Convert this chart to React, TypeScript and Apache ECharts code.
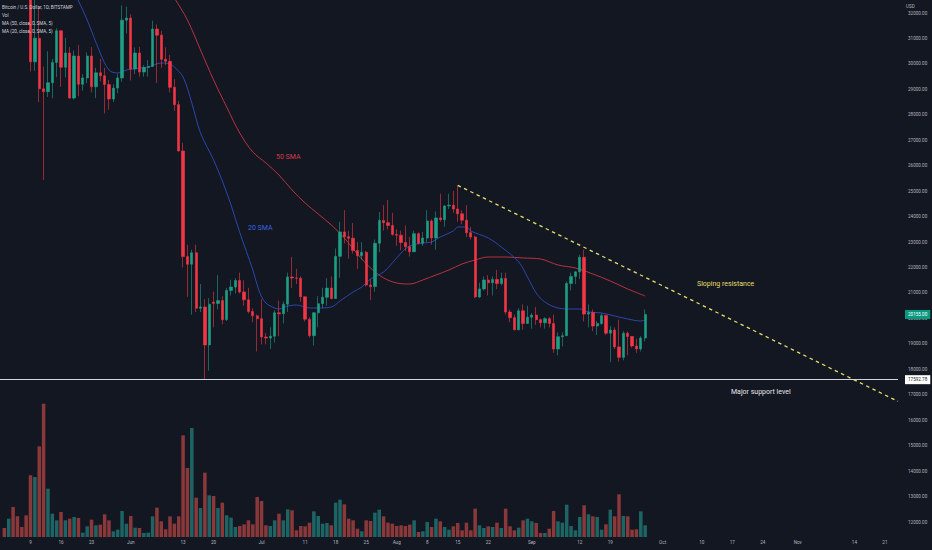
import React, { useEffect, useRef } from 'react';
import * as echarts from 'echarts';

// ---------- categories ----------
const firstDay = '2022-05-02';
const dayCount = 207;

const xTickLabels: [string, string][] = [
  ['2022-05-09', '9'], ['2022-05-16', '16'], ['2022-05-23', '23'], ['2022-06-01', 'Jun'],
  ['2022-06-13', '13'], ['2022-06-20', '20'], ['2022-07-01', 'Jul'], ['2022-07-11', '11'],
  ['2022-07-18', '18'], ['2022-07-25', '25'], ['2022-08-01', 'Aug'], ['2022-08-08', '8'],
  ['2022-08-15', '15'], ['2022-08-22', '22'], ['2022-09-01', 'Sep'], ['2022-09-12', '12'],
  ['2022-09-19', '19'], ['2022-10-01', 'Oct'], ['2022-10-10', '10'], ['2022-10-17', '17'],
  ['2022-10-24', '24'], ['2022-11-01', 'Nov'], ['2022-11-14', '14'], ['2022-11-21', '21'],
];

// ---------- price data (open, close, low, high), daily from 2022-05-03 ----------
const priceStart = '2022-05-03';
const ohlc: [number, number, number, number][] = [
  [38470, 37720, 37500, 38650], [37720, 39690, 37600, 40000], [39690, 36550, 35600, 39800],
  [36550, 36010, 35250, 36650], [36010, 35470, 34800, 36100], [35470, 34060, 33700, 35500],
  [34060, 30080, 29700, 34240], [30080, 31010, 29730, 32650], [31010, 29020, 28500, 32190],
  [29020, 28910, 25440, 29900], [28910, 29260, 28700, 30500], [29260, 30060, 28650, 30200],
  [30060, 31300, 29480, 31400], [31300, 29870, 29100, 31320], [29870, 30430, 29470, 31020],
  [30430, 28660, 28640, 30660], [28660, 30310, 28600, 30520], [30310, 29200, 28730, 30740],
  [29200, 29450, 28950, 29600], [29450, 30310, 29250, 30450], [30310, 29100, 28880, 30660],
  [29100, 29650, 28660, 29850], [29650, 29530, 29320, 30200], [29530, 29190, 28050, 29850],
  [29190, 28620, 28200, 29370], [28620, 29050, 28500, 29200], [29050, 29450, 28850, 29600],
  [29450, 31720, 29300, 32300], [31720, 31800, 31200, 32250], [31800, 29800, 29350, 31950],
  [29800, 30430, 29600, 30650], [30430, 29680, 29500, 30670], [29680, 29860, 29500, 29950],
  [29860, 29900, 29500, 30150], [29900, 31370, 29880, 31700], [31370, 31130, 29250, 31550],
  [31130, 30180, 29850, 31300], [30180, 30100, 29950, 30650], [30100, 29080, 28880, 30350],
  [29080, 28400, 28150, 29400], [28400, 26580, 26560, 28550], [26580, 22430, 22000, 26900],
  [22430, 22130, 20850, 22900], [22130, 22580, 20150, 22700], [22580, 20400, 20250, 22900],
  [20400, 20450, 20250, 21350], [20450, 18960, 17593, 20750], [18960, 20560, 17950, 20800],
  [20640, 20590, 19650, 21050], [20590, 20700, 20350, 21700], [20700, 19950, 19770, 20870],
  [19950, 21100, 19900, 21200], [21100, 21230, 20900, 21520], [21230, 21490, 20980, 21580],
  [21490, 21040, 20980, 21800], [21040, 20730, 20500, 21500], [20730, 20270, 20200, 21200],
  [20270, 20100, 19850, 20400], [20100, 19990, 18700, 20150], [19990, 19270, 18980, 20750],
  [19270, 19230, 18980, 19430], [19230, 19300, 18800, 19650], [19300, 20220, 19050, 20320],
  [20220, 20180, 19300, 20700], [20180, 20560, 19800, 20670], [20560, 21630, 20250, 21800],
  [21630, 21590, 21200, 22420], [21590, 21580, 21350, 21950], [21580, 20850, 20650, 21650],
  [20850, 19970, 19880, 20860], [19970, 19320, 19250, 20050], [19320, 20220, 18930, 20250],
  [20220, 20580, 19650, 20870], [20580, 20830, 20400, 21200], [20830, 21190, 20500, 21580],
  [21190, 20780, 20750, 21650], [20780, 22440, 20770, 22750], [22440, 23400, 21600, 23800],
  [23400, 23210, 22950, 24250], [23210, 23150, 22350, 23430], [23150, 22670, 22550, 23750],
  [22670, 22460, 21950, 23000], [22460, 22600, 22300, 23000], [22600, 21310, 21250, 22650],
  [21310, 21250, 20720, 21550], [21250, 22950, 21050, 23100], [22950, 23850, 22600, 24180],
  [23850, 23760, 23450, 24450], [23760, 23650, 23500, 24650], [23650, 23300, 23250, 24150],
  [23300, 23270, 22850, 23500], [23270, 22980, 22680, 23450], [22980, 22820, 22650, 23650],
  [22820, 22620, 22430, 23200], [22620, 23330, 22600, 23450], [23330, 22950, 22900, 23380],
  [22950, 23160, 22850, 23400], [23160, 23830, 23000, 24250], [23830, 23160, 22900, 23900],
  [23160, 23950, 22700, 24200], [23950, 23880, 23800, 24900], [23880, 24420, 23600, 24450],
  [24420, 24450, 24300, 24900], [24450, 24300, 24150, 25000], [24300, 24110, 23800, 25220],
  [24110, 23860, 23700, 24250], [23860, 23370, 23200, 24450], [23370, 23200, 23100, 23600],
  [23200, 20840, 20800, 23250], [20840, 21160, 20800, 21400], [21160, 21510, 21100, 21650],
  [21510, 21400, 20900, 21700], [21400, 21530, 20900, 21650], [21530, 21370, 21150, 21900],
  [21370, 21570, 21300, 21800], [21570, 20250, 20150, 21800], [20250, 20030, 19850, 20350],
  [20030, 19550, 19530, 20150], [19550, 20300, 19540, 20400], [20300, 19800, 19550, 20550],
  [19800, 20050, 19790, 20500], [20050, 20130, 19600, 20200], [20130, 19950, 19750, 20450],
  [19950, 19830, 19650, 20000], [19830, 19990, 19600, 20050], [19990, 19800, 19650, 20050],
  [19800, 18800, 18650, 20150], [18800, 19280, 18550, 19450], [19280, 19320, 18900, 19450],
  [19320, 21370, 19300, 21450], [21370, 21650, 21100, 21800], [21650, 21830, 21350, 21850],
  [21830, 22400, 21550, 22500], [22400, 20170, 19880, 22700], [20170, 20230, 19650, 20550],
  [20230, 19700, 19500, 20350], [19700, 19800, 19350, 19900], [19800, 20110, 19750, 20200],
  [20110, 19420, 19350, 20150], [19420, 19540, 18280, 19700], [19540, 18880, 18800, 19650],
  [18880, 18470, 18300, 19950], [18470, 19420, 18350, 19500], [19420, 19290, 18550, 19480],
  [19290, 18920, 18850, 19300], [18920, 18800, 18650, 19200], [18800, 19230, 18700, 19300],
  [19230, 20155, 19100, 20350],
];

// ---------- volume, daily from 2022-05-03 ----------
const volumes: number[] = [
  810, 1650, 2700, 1860, 900, 1950,
  5550, 5400, 8160, 12000, 4350, 2100, 1500, 2250, 1500, 1650,
  1800, 1710, 390, 960, 1560, 1050, 1110, 2040, 1500, 510,
  660, 2340, 1200, 1890, 840, 810, 360, 390, 1860, 2640,
  1410, 690, 1860, 1200, 1860, 9150, 6210, 9810, 3540, 2610,
  5790, 3750, 3690, 2610, 3090, 1950, 1740, 900, 990, 1140,
  1500, 1140, 3600, 3240, 1050, 990, 1500, 2100, 1500, 2490,
  2400, 600, 990, 960, 1290, 2310, 1890, 1200, 1260, 1050,
  3090, 3360, 2940, 1650, 1500, 750, 510, 1500, 1440, 2190,
  2460, 1860, 1290, 1200, 990, 1050, 990, 1110, 1500, 450,
  510, 1350, 900, 1650, 1410, 900, 660, 960, 1260, 600,
  1290, 600, 2550, 1050, 810, 960, 900, 1290, 810, 2550,
  960, 600, 840, 1500, 1650, 1410, 1260, 360, 360, 750,
  2340, 1410, 1290, 2910, 990, 600, 1800, 2850, 2040, 1860,
  1800, 660, 1140, 2460, 1860, 3840, 1890, 1860, 660, 690,
  2310, 1050,
];

// ---------- moving averages ----------
const ma20Points: [string, number][] = [
  ['2022-05-18', 33220], ['2022-05-20', 32480], ['2022-05-22', 31725], ['2022-05-25', 30428],
  ['2022-05-27', 29760], ['2022-05-29', 29643], ['2022-05-31', 29760], ['2022-06-03', 29839],
  ['2022-06-05', 29878], ['2022-06-08', 30036], ['2022-06-10', 29996], ['2022-06-11', 29878],
  ['2022-06-13', 29485], ['2022-06-15', 28464], ['2022-06-17', 27285], ['2022-06-20', 26224],
  ['2022-06-22', 25400], ['2022-06-24', 24456], ['2022-06-26', 23380], ['2022-06-29', 21902],
  ['2022-06-30', 21313], ['2022-07-01', 20842], ['2022-07-02', 20606], ['2022-07-03', 20488],
  ['2022-07-05', 20370], ['2022-07-07', 20488], ['2022-07-09', 20527], ['2022-07-12', 20409],
  ['2022-07-14', 20409], ['2022-07-17', 20449], ['2022-07-19', 20684], ['2022-07-22', 21038],
  ['2022-07-24', 21234], ['2022-07-26', 21549], ['2022-07-29', 21824], ['2022-07-31', 22178],
  ['2022-08-02', 22570], ['2022-08-04', 22846], ['2022-08-07', 22963], ['2022-08-09', 23003],
  ['2022-08-11', 23199], ['2022-08-14', 23435], ['2022-08-15', 23592], ['2022-08-17', 23592],
  ['2022-08-18', 23435], ['2022-08-22', 23160], ['2022-08-25', 22806], ['2022-08-29', 22217],
  ['2022-08-31', 21628], ['2022-09-02', 20999], ['2022-09-04', 20645], ['2022-09-07', 20409],
  ['2022-09-10', 20370], ['2022-09-12', 20370], ['2022-09-14', 20252], ['2022-09-17', 20213],
  ['2022-09-20', 20095], ['2022-09-23', 19977], ['2022-09-26', 19899], ['2022-09-27', 19938],
];

const ma50Points: [string, number][] = [
  ['2022-06-08', 33400], ['2022-06-11', 32590], ['2022-06-14', 31725], ['2022-06-17', 30546],
  ['2022-06-20', 29368], ['2022-06-23', 28307], ['2022-06-26', 27285], ['2022-06-29', 26539],
  ['2022-07-02', 26107], ['2022-07-05', 25635], ['2022-07-08', 25046], ['2022-07-11', 24535],
  ['2022-07-14', 24103], ['2022-07-17', 23670], ['2022-07-20', 23160], ['2022-07-23', 22531],
  ['2022-07-26', 21981], ['2022-07-29', 21589], ['2022-08-01', 21392], ['2022-08-04', 21352],
  ['2022-08-07', 21510], ['2022-08-10', 21706], ['2022-08-13', 21903], ['2022-08-16', 22139],
  ['2022-08-19', 22295], ['2022-08-22', 22413], ['2022-08-26', 22413], ['2022-08-30', 22374],
  ['2022-09-03', 22335], ['2022-09-07', 22099], ['2022-09-11', 21981], ['2022-09-15', 21746],
  ['2022-09-19', 21470], ['2022-09-23', 21156], ['2022-09-27', 20881],
];

const supportLevel = 17592.78;
const lastPrice = 20155;
const resistanceLine: [string, number][] = [['2022-08-15', 25230], ['2022-11-24', 16740]];

// ---------- styling ----------
const BG = '#131722';
const UP = '#1e9e84';
const DOWN = '#f23645';
const VOL_UP = 'rgba(38,166,154,0.55)';
const VOL_DOWN = 'rgba(239,83,80,0.55)';
const FONT = 'Roboto, "Noto Sans", sans-serif';
const AXIS_TXT = '#b2b5be';
const YELLOW = '#e4dd6a';

function buildDates(): string[] {
  const out: string[] = [];
  const [y, m, d] = firstDay.split('-').map(Number);
  const start = Date.UTC(y, m - 1, d);
  for (let i = 0; i < dayCount; i++) {
    out.push(new Date(start + i * 86400000).toISOString().slice(0, 10));
  }
  return out;
}

function buildOption() {
  const dates = buildDates();
  const idx: Record<string, number> = {};
  dates.forEach((d, i) => (idx[d] = i));
  const labelMap = new Map<string, string>(xTickLabels);
  const off = idx[priceStart];

  const candleData: any[] = [];
  const volData: any[] = [];
  for (let i = 0; i < off; i++) {
    candleData.push('-');
    volData.push('-');
  }
  ohlc.forEach((c, i) => {
    candleData.push(c);
    volData.push({ value: volumes[i], itemStyle: { color: c[1] >= c[0] ? VOL_UP : VOL_DOWN } });
  });

  const pts = (arr: [string, number][]) => arr.map(([d, v]) => [idx[d], v]);

  const txt = (text: string, x: number, y: number, fill: string, size: number) => ({
    type: 'text',
    x,
    y,
    silent: true,
    z: 100,
    style: { text, fill, fontSize: size, fontFamily: FONT, verticalAlign: 'middle', align: 'left' },
  });

  const priceLabel = (value: number, bg: string, fg: string) => ({
    show: true,
    position: 'end',
    distance: 7,
    formatter: value.toFixed(2),
    backgroundColor: bg,
    color: fg,
    fontSize: 4.6,
    fontFamily: FONT,
    padding: [2, 3, 2, 3],
  });

  return {
    animation: false,
    backgroundColor: BG,
    grid: { left: 0, right: 34, top: 0, bottom: 13, containLabel: false },
    xAxis: {
      type: 'category',
      data: dates,
      boundaryGap: false,
      axisLine: { show: false },
      axisTick: { show: false },
      splitLine: { show: false },
      axisLabel: {
        interval: (_i: number, v: string) => labelMap.has(v),
        formatter: (v: string) => labelMap.get(v) ?? '',
        color: AXIS_TXT,
        fontSize: 4.6,
        fontFamily: FONT,
        margin: 3,
      },
    },
    yAxis: [
      {
        type: 'value',
        position: 'right',
        min: 11411,
        max: 32511,
        minInterval: 1000,
        maxInterval: 1000,
        axisLine: { show: false },
        axisTick: { show: false },
        splitLine: { show: false },
        axisLabel: {
          formatter: (v: number) => (Math.abs(v % 1000) < 1e-6 ? v.toFixed(2) : ''),
          color: AXIS_TXT,
          fontSize: 4.6,
          fontFamily: FONT,
          margin: 10,
        },
      },
      {
        type: 'value',
        min: 0,
        max: 48330,
        show: false,
        splitLine: { show: false },
      },
    ],
    series: [
      {
        type: 'bar',
        name: 'Vol',
        yAxisIndex: 1,
        data: volData,
        barWidth: 3.5,
        silent: true,
        z: 1,
      },
      {
        type: 'line',
        name: 'MA50',
        data: pts(ma50Points),
        showSymbol: false,
        smooth: 0.35,
        lineStyle: { color: '#b8323f', width: 1 },
        silent: true,
        z: 2,
      },
      {
        type: 'line',
        name: 'MA20',
        data: pts(ma20Points),
        showSymbol: false,
        smooth: 0.35,
        lineStyle: { color: '#2c46ad', width: 1 },
        silent: true,
        z: 2,
      },
      {
        type: 'candlestick',
        name: 'BTCUSD',
        data: candleData,
        barWidth: 2.8,
        clip: true,
        z: 3,
        itemStyle: {
          color: UP,
          color0: DOWN,
          borderColor: UP,
          borderColor0: DOWN,
          borderWidth: 0.6,
        },
        markLine: {
          silent: true,
          symbol: ['none', 'none'],
          animation: false,
          data: [
            {
              yAxis: supportLevel,
              lineStyle: { color: '#d1d4dc', width: 1, type: 'solid' },
              label: priceLabel(supportLevel, '#ffffff', '#131722'),
            },
            {
              yAxis: lastPrice,
              lineStyle: { color: 'rgba(0,0,0,0)', width: 1, type: 'solid' },
              label: priceLabel(lastPrice, '#089981', '#ffffff'),
            },
          ],
        },
      },
      {
        type: 'line',
        name: 'Sloping resistance',
        data: pts(resistanceLine),
        showSymbol: false,
        lineStyle: { color: YELLOW, width: 1.3, type: [3.5, 3.5] },
        silent: true,
        z: 4,
      },
    ],
    graphic: [
      txt('Bitcoin / U.S. Dollar, 1D, BITSTAMP', 2, 7, '#d1d4dc', 4.6),
      txt('Vol', 2, 15, '#d1d4dc', 4.6),
      txt('MA (50, close, 0, SMA, 5)', 2, 23, '#d1d4dc', 4.6),
      txt('MA (20, close, 0, SMA, 5)', 2, 31, '#d1d4dc', 4.6),
      txt('USD', 906, 6, AXIS_TXT, 4.6),
      txt('50 SMA', 276, 157, '#d63a47', 7),
      txt('20 SMA', 248, 228, '#3a62e0', 7),
      txt('Sloping resistance', 697, 284, YELLOW, 7),
      txt('Major support level', 731, 392, '#e8e8ea', 7),
    ],
  };
}

export default function App() {
  const ref = useRef<HTMLDivElement>(null);
  useEffect(() => {
    if (!ref.current) return;
    const chart = echarts.init(ref.current, null, { renderer: 'svg' });
    chart.setOption(buildOption() as any);
    return () => chart.dispose();
  }, []);
  return (
    <div
      ref={ref}
      style={{ position: 'fixed', left: 0, top: 0, width: 932, height: 550, background: BG }}
    />
  );
}
